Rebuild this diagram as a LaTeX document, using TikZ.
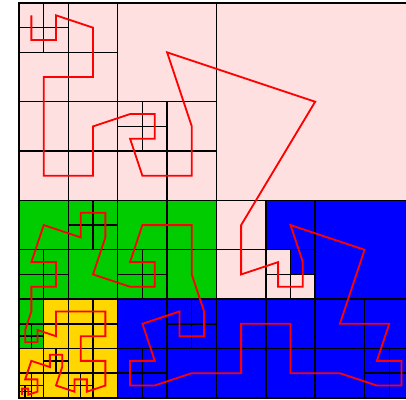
\documentclass[tikz,border=0pt]{standalone}
\usetikzlibrary{positioning}

\definecolor{pinkcell}{RGB}{255,224,224}
\definecolor{greencell}{RGB}{0,204,0}
\definecolor{bluecell}{RGB}{0,0,255}
\definecolor{yellowcell}{RGB}{255,214,0}

\begin{document}
\begin{tikzpicture}[x=0.25cm, y=-0.25cm,
          cell/.style={draw=black, line width=0.8pt},
          curve/.style={draw=red, line width=1.05pt, line join=miter}]

        \useasboundingbox (-1.54,-0.24) rectangle (31.36,32.17);
        \clip (-1.54,-0.24) rectangle (31.36,32.17);

        % leaves of the quadtree, by owner
        \foreach \x/\y/\s in {0/0/2, 2/0/2, 0/2/2, 2/2/2, 4/0/4, 0/4/4, 4/4/4, 8/0/8,
            0/8/4, 4/8/4, 0/12/4, 4/12/4, 8/8/2, 10/8/2, 8/10/2, 10/10/2,
            12/8/4, 8/12/4, 12/12/4, 16/0/16,
            16/16/4, 16/20/4, 20/20/2, 20/22/2, 22/22/2}
          \filldraw [cell, fill=pinkcell] (\x,\y) rectangle ++(\s,\s);

        \foreach \x/\y/\s in {20/16/4, 22/20/2, 24/16/8, 24/24/4, 28/24/4, 24/28/4,
            28/28/2, 30/28/2, 28/30/2, 30/30/2, 16/24/4, 20/24/4, 16/28/4, 20/28/4,
            8/24/4, 12/24/2, 14/24/2, 12/26/2, 14/26/2, 8/28/2, 10/28/2, 8/30/2,
            10/30/2, 12/28/4}
          \filldraw [cell, fill=bluecell] (\x,\y) rectangle ++(\s,\s);

        \foreach \x/\y/\s in {0/16/4, 4/16/2, 6/16/2, 4/18/2, 6/18/2, 0/20/2, 2/20/2,
            0/22/2, 2/22/2, 4/20/4, 8/16/4, 12/16/4, 8/20/2, 10/20/2, 8/22/2,
            10/22/2, 12/20/4, 0/24/2, 0/26/1, 1/26/1, 0/27/1, 1/27/1}
          \filldraw [cell, fill=greencell] (\x,\y) rectangle ++(\s,\s);

        \foreach \x/\y/\s in {2/24/2, 2/26/2, 4/24/2, 6/24/2, 4/26/2, 6/26/2, 4/28/2,
            6/28/2, 6/30/2, 4/30/1, 5/30/1, 4/31/1, 5/31/1, 2/30/2, 2/28/1, 3/28/1,
            2/29/1, 3/29/1, 0/28/2, 0/30/1, 1/30/1, 1/31/1, 0/31/0.5, 0.5/31/0.5,
            0/31.5/0.5, 0.5/31.5/0.5}
          \filldraw [cell, fill=yellowcell] (\x,\y) rectangle ++(\s,\s);

        \draw [cell, line width=1.1pt] (0,0) rectangle (32,32);

        % curve through the leaf centres
        \draw [curve] (1,1) -- (1,3) -- (3,3) -- (3,1) -- (6,2) -- (6,6) -- (2,6)
          -- (2,10) -- (2,14) -- (6,14) -- (6,10) -- (9,9) -- (11,9) -- (11,11)
          -- (9,11) -- (10,14) -- (14,14) -- (14,10) -- (12,4) -- (24,8)
          -- (18,18) -- (18,22) -- (21,21) -- (21,23) -- (23,23) -- (23,21)
          -- (22,18) -- (28,20) -- (26,26) -- (30,26) -- (29,29) -- (31,29)
          -- (31,31) -- (29,31) -- (26,30) -- (22,30) -- (22,26) -- (18,26)
          -- (18,30) -- (14,30) -- (11,31) -- (9,31) -- (9,29) -- (11,29)
          -- (10,26) -- (13,25) -- (13,27) -- (15,27) -- (15,25) -- (14,22)
          -- (14,18) -- (10,18) -- (9,21) -- (11,21) -- (11,23) -- (9,23)
          -- (6,22) -- (7,19) -- (7,17) -- (5,17) -- (5,19) -- (2,18) -- (1,21)
          -- (3,21) -- (3,23) -- (1,23) -- (1,25) -- (0.5,26.5) -- (0.5,27.5)
          -- (1.5,27.5) -- (1.5,26.5) -- (3,27) -- (3,25) -- (5,25) -- (7,25)
          -- (7,27) -- (5,27) -- (5,29) -- (7,29) -- (7,31) -- (5.5,31.5)
          -- (5.5,30.5) -- (4.5,30.5) -- (4.5,31.5) -- (3,31) -- (3.5,29.5)
          -- (3.5,28.5) -- (2.5,28.5) -- (2.5,29.5) -- (1,29) -- (0.5,30.5)
          -- (1.5,30.5) -- (1.5,31.5) -- (0.75,31.75) -- (0.75,31.25)
          -- (0.25,31.25) -- (0.25,31.75);
      \end{tikzpicture}
\end{document}
